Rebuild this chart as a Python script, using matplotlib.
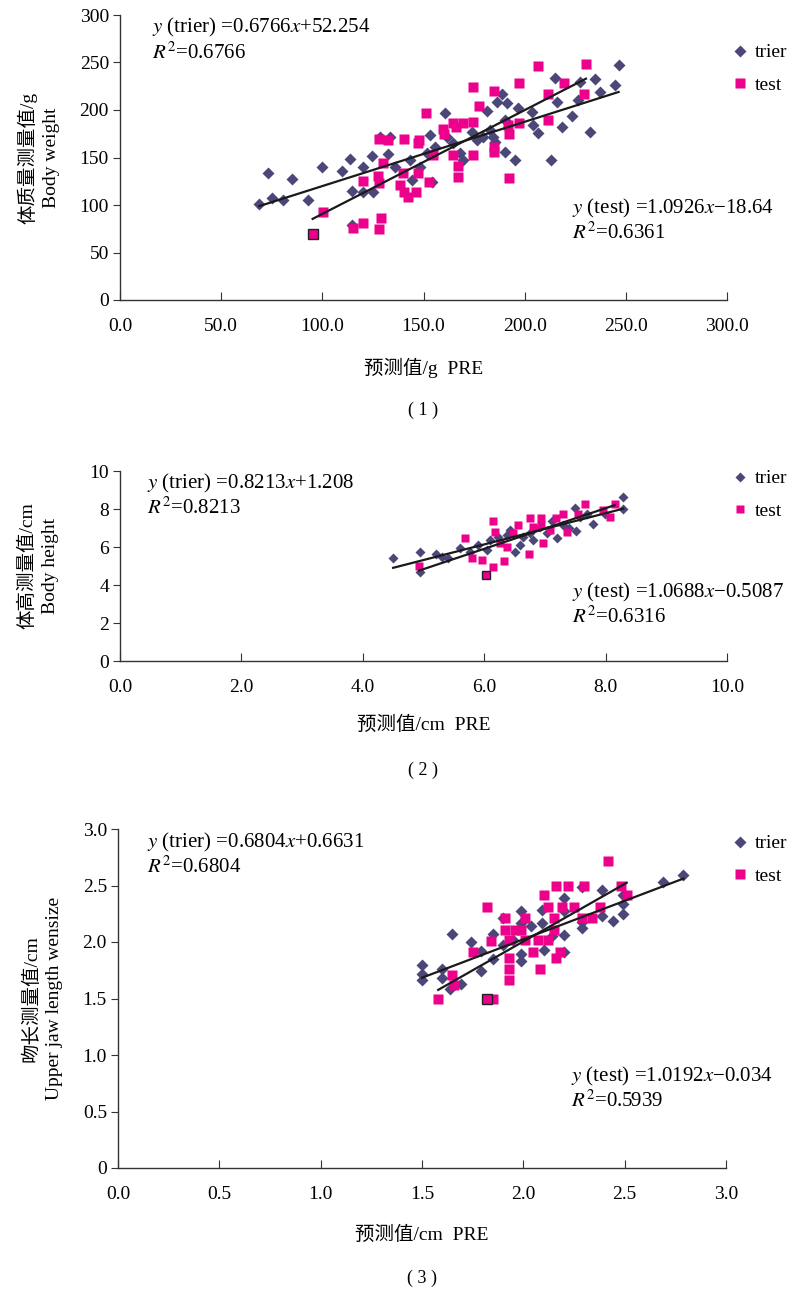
import matplotlib
matplotlib.use('Agg')
import matplotlib.pyplot as plt

plt.rcParams['font.family'] = ['Liberation Serif', 'Noto Sans CJK SC']
plt.rcParams['mathtext.fontset'] = 'stix'

# panel 1: body weight (g)
w_trier_x = [68.9, 73.3, 75.0, 80.7, 84.9, 93.1, 99.7, 109.6, 113.7, 114.5, 114.5, 120.3, 120.3, 124.4,
             125.2, 128.5, 133.5, 132.6, 135.9, 143.4, 144.2, 148.3, 153.2, 151.6, 154.1, 155.7, 160.7,
             161.5, 164.8, 168.1, 169.7, 173.8, 176.3, 179.6, 181.3, 182.9, 184.5, 185.4, 186.2, 188.7,
             191.2, 190.3, 190.3, 195.3, 196.9, 203.5, 204.3, 206.8, 212.8, 215.2, 216.0, 218.3, 223.3,
             226.6, 227.4, 232.3, 234.8, 237.3, 244.7, 246.4]
w_trier_y = [100.7, 133.3, 107.7, 105.3, 127.0, 105.3, 140.3, 135.8, 148.4, 114.7, 78.9, 140.3, 113.4, 151.9,
             113.4, 171.9, 171.9, 153.4, 140.3, 147.4, 126.3, 140.3, 173.7, 154.4, 124.5, 161.4, 197.2,
             171.9, 165.0, 154.4, 147.4, 177.2, 168.4, 171.9, 198.9, 178.9, 171.9, 166.6, 208.8, 216.5,
             207.0, 189.5, 156.1, 147.4, 201.8, 197.6, 184.2, 175.4, 147.4, 234.0, 208.8, 181.8, 193.7,
             210.5, 229.8, 177.2, 232.3, 219.3, 226.6, 247.4]
w_test_x = [95.2, 100.2, 115.3, 120.0, 128.2, 129.0, 120.0, 127.7, 128.2, 129.9, 128.2, 132.6, 138.4, 139.7,
            140.5, 142.2, 146.3, 140.5, 147.1, 148.0, 147.5, 152.9, 151.3, 154.9, 159.5, 160.3, 164.8,
            166.1, 169.7, 174.3, 164.5, 166.9, 166.9, 174.3, 174.3, 177.6, 185.0, 185.0, 185.0, 192.4,
            192.4, 191.6, 197.4, 197.4, 206.5, 211.4, 211.7, 219.6, 229.5, 230.3]
w_test_y = [69.1, 92.3, 76.1, 81.4, 74.4, 86.0, 125.6, 130.5, 123.5, 144.5, 169.2, 168.4, 121.0, 133.3,
            114.0, 108.8, 114.0, 169.2, 164.9, 168.4, 133.3, 124.5, 196.5, 152.6, 179.7, 174.7, 186.0,
            181.8, 186.0, 187.7, 152.6, 141.0, 129.8, 152.6, 224.5, 204.5, 220.0, 161.4, 156.1, 174.4,
            128.1, 184.2, 228.1, 186.7, 246.3, 216.5, 189.5, 228.1, 216.5, 248.1]

# panel 2: body height (cm)
h_trier_x = [4.50, 4.95, 4.95, 5.21, 5.30, 5.41, 5.60, 5.77, 5.90, 6.04, 6.10, 6.23, 6.37, 6.43, 6.51,
             6.59, 6.64, 6.75, 6.81, 6.92, 7.03, 7.11, 7.20, 7.30, 7.39, 7.50, 7.52, 7.58, 7.69, 7.80,
             7.99, 8.29, 8.29]
h_trier_y = [5.40, 5.75, 4.70, 5.63, 5.46, 5.40, 5.93, 5.75, 6.11, 5.84, 6.37, 6.54, 6.63, 6.89, 5.75,
             6.11, 6.54, 6.72, 6.37, 7.07, 6.72, 7.37, 6.49, 7.16, 6.98, 8.07, 6.84, 7.59, 7.72, 7.19,
             7.72, 8.63, 7.98]
h_test_x = [6.03, 4.93, 5.68, 5.80, 5.96, 6.14, 6.33, 6.73, 6.97, 6.15, 6.18, 6.26, 6.37, 6.48, 6.56,
            6.75, 6.81, 6.94, 6.94, 7.08, 7.19, 7.30, 7.36, 7.55, 7.66, 7.96, 8.07, 8.15]
h_test_y = [4.53, 5.00, 6.46, 5.40, 5.32, 4.96, 5.26, 5.63, 6.23, 7.37, 6.81, 6.19, 6.02, 6.72, 7.16,
            7.51, 7.07, 7.51, 7.16, 6.89, 7.51, 7.72, 6.81, 7.72, 8.28, 7.93, 7.58, 8.28]

# panel 3: upper jaw length (cm)
j_trier_x = [1.50, 1.50, 1.50, 1.60, 1.60, 1.65, 1.64, 1.69, 1.74, 1.79, 1.79, 1.85, 1.85, 1.90, 1.90,
             1.95, 1.99, 1.99, 1.99, 1.99, 2.04, 2.09, 2.09, 2.10, 2.14, 2.20, 2.20, 2.20, 2.20, 2.29,
             2.29, 2.29, 2.39, 2.39, 2.44, 2.49, 2.49, 2.49, 2.69, 2.79]
j_trier_y = [1.80, 1.72, 1.66, 1.76, 1.68, 2.07, 1.58, 1.63, 2.00, 1.92, 1.74, 2.07, 1.85, 2.21, 1.97,
             2.02, 2.27, 2.17, 1.89, 1.83, 2.14, 2.28, 2.17, 1.93, 2.05, 2.39, 2.27, 2.06, 1.91, 2.18,
             2.12, 2.49, 2.46, 2.23, 2.19, 2.42, 2.34, 2.25, 2.53, 2.59]
j_test_x = [1.82, 1.58, 1.85, 1.65, 1.66, 1.75, 1.82, 1.84, 1.91, 1.91, 1.93, 1.93, 1.93, 1.93, 1.96,
            1.99, 2.01, 2.01, 2.05, 2.07, 2.08, 2.10, 2.12, 2.12, 2.15, 2.15, 2.16, 2.16, 2.18, 2.19,
            2.22, 2.25, 2.29, 2.30, 2.34, 2.38, 2.42, 2.48, 2.51]
j_test_y = [1.50, 1.50, 1.50, 1.71, 1.62, 1.91, 2.31, 2.01, 2.21, 2.11, 2.02, 1.86, 1.76, 1.66, 2.11,
            2.11, 2.21, 2.02, 1.91, 2.02, 1.76, 2.42, 2.31, 2.02, 2.21, 2.11, 1.86, 2.50, 1.91, 2.31,
            2.50, 2.31, 2.21, 2.50, 2.21, 2.31, 2.72, 2.50, 2.42]

# trendlines: slope, intercept
fits = [
    ((0.6766, 52.254), (1.0926, -18.64)),
    ((0.8213, 1.208), (1.0688, -0.5087)),
    ((0.6804, 0.6631), (1.0192, -0.034)),
]
eq_text = [
    (('0.6766', '+52.254', '0.6766'), ('1.0926', '\u221218.64', '0.6361')),
    (('0.8213', '+1.208', '0.8213'), ('1.0688', '\u22120.5087', '0.6316')),
    (('0.6804', '+0.6631', '0.6804'), ('1.0192', '\u22120.034', '0.5939')),
]

xticks = [[0, 50, 100, 150, 200, 250, 300], [0, 2, 4, 6, 8, 10], [0, 0.5, 1.0, 1.5, 2.0, 2.5, 3.0]]
xtick_labels = [['0.0', '50.0', '100.0', '150.0', '200.0', '250.0', '300.0'],
                ['0.0', '2.0', '4.0', '6.0', '8.0', '10.0'],
                ['0.0', '0.5', '1.0', '1.5', '2.0', '2.5', '3.0']]
yticks = [[0, 50, 100, 150, 200, 250, 300], [0, 2, 4, 6, 8, 10], [0, 0.5, 1.0, 1.5, 2.0, 2.5, 3.0]]
ytick_labels = [['0', '50', '100', '150', '200', '250', '300'],
                ['0', '2', '4', '6', '8', '10'],
                ['0', '0.5', '1.0', '1.5', '2.0', '2.5', '3.0']]
xlabels = ['预测值/g  PRE', '预测值/cm  PRE', '预测值/cm  PRE']
ylabels = ['体质量测量值/g\nBody weight', '体高测量值/cm\nBody height', '吻长测量值/cm\nUpper jaw length wensize']
captions = ['( 1 )', '( 2 )', '( 3 )']

BLUE = '#4b4879'
PINK = '#ec008c'
DARK = '#333333'

fig = plt.figure(figsize=(7.92, 12.90), dpi=100)
W, H = 792, 1290
# left, top, right, bottom in pixels
boxes = [(120, 15, 727, 300), (120, 471, 727, 661), (118, 829, 726, 1168)]
marker_px = [(6.0, 6.8), (5.0, 5.6), (6.0, 6.8)]
leg_y = [0.926, 1.047, 1.006]
trier_eq_x = [0.053, 0.044, 0.048]
test_eq_y = [0.36, 0.42, 0.305]
xlab_y = [368, 725, 1235]
cap_y = [410, 770, 1278]
ylab_pad = [14, 22, 14]

data = [(w_trier_x, w_trier_y, w_test_x, w_test_y),
        (h_trier_x, h_trier_y, h_test_x, h_test_y),
        (j_trier_x, j_trier_y, j_test_x, j_test_y)]

for i in range(3):
    l, t, r, b = boxes[i]
    ax = fig.add_axes([l / W, (H - b) / H, (r - l) / W, (b - t) / H])
    tx, ty, sx, sy = data[i]
    (m1, c1), (m2, c2) = fits[i]

    ax.plot(tx, ty, 'D', color=BLUE, ms=marker_px[i][0], mec='none', label='trier', zorder=3)
    ax.plot(sx, sy, 's', color=PINK, ms=marker_px[i][1], mec='none', label='test', zorder=3)
    # the one outlined point Excel left selected
    ax.plot(sx[0], sy[0], 's', color=PINK, ms=marker_px[i][1], mec='#222222', mew=1.0, zorder=4)

    x1 = [min(tx), max(tx)]
    x2 = [min(sx), max(sx)]
    ax.plot(x1, [m1 * v + c1 for v in x1], color='#1a1a1a', lw=1.6, zorder=5)
    ax.plot(x2, [m2 * v + c2 for v in x2], color='#1a1a1a', lw=1.6, zorder=5)

    ax.set_xlim(xticks[i][0], xticks[i][-1])
    ax.set_ylim(yticks[i][0], yticks[i][-1])
    ax.set_xticks(xticks[i])
    ax.set_xticklabels(xtick_labels[i])
    ax.set_yticks(yticks[i])
    ax.set_yticklabels(ytick_labels[i])
    for s in ['top', 'right']:
        ax.spines[s].set_visible(False)
    for s in ['left', 'bottom']:
        ax.spines[s].set_color(DARK)
        ax.spines[s].set_linewidth(1.0)
    ax.tick_params(axis='x', direction='in', length=6, color=DARK, labelsize=14, pad=13)
    ax.tick_params(axis='y', direction='out', length=5, color=DARK, labelsize=14, pad=3)

    (a1, b1, q1), (a2, b2, q2) = eq_text[i]
    ax.text(trier_eq_x[i], 0.995, '$y$ (trier) =' + a1 + '$x$' + b1 + '\n' + '$R^2$=' + q1,
            transform=ax.transAxes, ha='left', va='top', fontsize=15, linespacing=1.15)
    ax.text(0.745, test_eq_y[i], '$y$ (test) =' + a2 + '$x$' + b2 + '\n' + '$R^2$=' + q2,
            transform=ax.transAxes, ha='left', va='top', fontsize=15, linespacing=1.15)

    ax.legend(loc='upper left', bbox_to_anchor=((724 - l) / (r - l), leg_y[i]), frameon=False, fontsize=14,
              handlelength=0.8, handletextpad=0.4, labelspacing=0.75, borderaxespad=0)

    ax.set_ylabel(ylabels[i], fontsize=14, labelpad=ylab_pad[i], linespacing=1.4)
    fig.text((l + r) / 2 / W, 1 - xlab_y[i] / H, xlabels[i], ha='center', va='center', fontsize=14)
    fig.text((l + r) / 2 / W, 1 - cap_y[i] / H, captions[i], ha='center', va='center', fontsize=13)

plt.savefig('out.png', dpi=100)
plt.close()
